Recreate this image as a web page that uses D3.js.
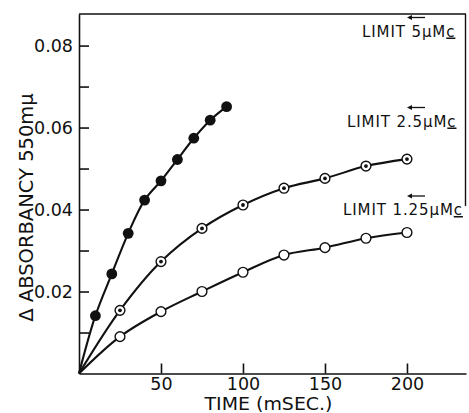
<!DOCTYPE html>
<html>
<head>
<meta charset="utf-8">
<script src="https://cdn.jsdelivr.net/npm/d3@7"></script>
<style>
  body { margin: 0; background: #fff; }
  svg { display: block; font-family: "DejaVu Sans", sans-serif; }
</style>
</head>
<body>
<div id="graphic"></div>
<script>
// time (msec) and delta absorbancy
const timesFilled = [10, 20, 30, 40, 50, 60, 70, 80, 90]
const valuesFilled = [0.0141, 0.0243, 0.0342, 0.0423, 0.0470, 0.0522, 0.0574, 0.0618, 0.0651]

const timesDotted = [25, 50, 75, 100, 125, 150, 175, 200]
const valuesDotted = [0.0154, 0.0273, 0.0354, 0.0411, 0.0452, 0.0476, 0.0506, 0.0523]

const timesOpen = [25, 50, 75, 100, 125, 150, 175, 200]
const valuesOpen = [0.0090, 0.0151, 0.0200, 0.0247, 0.0289, 0.0307, 0.0330, 0.0344]

const xTickValues = [50, 100, 150, 200]
const yTickValues = [0.01, 0.02, 0.03, 0.04, 0.05, 0.06, 0.07, 0.08]
const limitNumbers = ["5", "2.5", "1.25"]

const W = 469, H = 413

const svg = d3.select("#graphic")
    .append("svg")
    .attr("width", W)
    .attr("height", H)

const x = d3.scaleLinear().domain([0, 236]).range([79, 466])
const y = d3.scaleLinear().domain([0, 0.0877]).range([373.5, 14])

// axes
svg.append("g")
    .attr("transform", `translate(0,${y(0)})`)
    .call(d3.axisBottom(x).tickValues(xTickValues).tickSize(-10).tickSizeOuter(0).tickPadding(4))
svg.append("g")
    .attr("transform", `translate(${x(0)},0)`)
    .call(d3.axisLeft(y).tickValues(yTickValues).tickSize(-10).tickSizeOuter(0).tickPadding(6)
        .tickFormat(d => Math.round(d * 100) % 2 === 0 ? d3.format(".2f")(d) : ""))

svg.selectAll(".domain, .tick line")
    .attr("stroke", "#111")
    .attr("stroke-width", 1.6)
svg.selectAll(".tick text")
    .attr("font-size", "17.5px")
    .attr("font-family", "DejaVu Sans")
    .attr("fill", "#111")

// frame top and right part
svg.append("line")
    .attr("x1", x(0)).attr("x2", x(236))
    .attr("y1", y(0.0877)).attr("y2", y(0.0877))
    .attr("stroke", "#111").attr("stroke-width", 1.4)
svg.append("line")
    .attr("x1", x(236) - 0.5).attr("x2", x(236) - 0.5)
    .attr("y1", y(0.0877)).attr("y2", 206)
    .attr("stroke", "#111").attr("stroke-width", 1.4)

// axis titles
svg.append("text")
    .attr("x", 268.5).attr("y", 409.5)
    .attr("text-anchor", "middle")
    .attr("font-size", "17px")
    .attr("textLength", 128)
    .attr("lengthAdjust", "spacingAndGlyphs")
    .attr("fill", "#111")
    .text("TIME (mSEC.)")

svg.append("text")
    .attr("transform", "translate(33,207.5) rotate(-90)")
    .attr("text-anchor", "middle")
    .attr("font-size", "19.5px")
    .attr("fill", "#111")
    .text("Δ ABSORBANCY 550mμ")

// curves
const series = [
    { t: timesFilled, v: valuesFilled, kind: "filled" },
    { t: timesDotted, v: valuesDotted, kind: "dotted" },
    { t: timesOpen, v: valuesOpen, kind: "open" }
]

const line = d3.line()
    .x(d => x(d[0]))
    .y(d => y(d[1]))
    .curve(d3.curveCatmullRom.alpha(0.5))

series.forEach(s => {
    const pts = [[0, 0]].concat(s.t.map((t, i) => [t, s.v[i]]))
    svg.append("path")
        .datum(pts)
        .attr("d", line)
        .attr("fill", "none")
        .attr("stroke", "#111")
        .attr("stroke-width", 2.1)

    const g = svg.append("g")
        .selectAll("g")
        .data(pts.slice(1))
        .join("g")
        .attr("transform", d => `translate(${x(d[0])},${y(d[1])})`)

    if (s.kind === "filled") {
        g.append("circle").attr("r", 5.4).attr("fill", "#111")
    } else {
        g.append("circle").attr("r", 4.9)
            .attr("fill", "#fff").attr("stroke", "#111").attr("stroke-width", 1.4)
        if (s.kind === "dotted") {
            g.append("circle").attr("r", 1.9).attr("fill", "#111")
        }
    }
})

// limit labels with small arrows
const labelPos = [[362, 36.5], [347, 126.5], [343, 215]]
limitNumbers.forEach((n, i) => {
    const [lx, ly] = labelPos[i]
    const t = svg.append("text")
        .attr("x", lx).attr("y", ly)
        .attr("font-size", "15px")
        .attr("letter-spacing", "0.9px")
        .attr("fill", "#111")
    t.append("tspan").text("LIMIT " + n + "μM")
    t.append("tspan").attr("text-decoration", "underline").text("c")

    const ay = ly - 19
    svg.append("line")
        .attr("x1", 409).attr("x2", 425)
        .attr("y1", ay).attr("y2", ay)
        .attr("stroke", "#111").attr("stroke-width", 1.3)
    svg.append("path")
        .attr("d", `M${407},${ay} l5,-2.5 l0,5 z`)
        .attr("fill", "#111")
})
</script>
</body>
</html>
